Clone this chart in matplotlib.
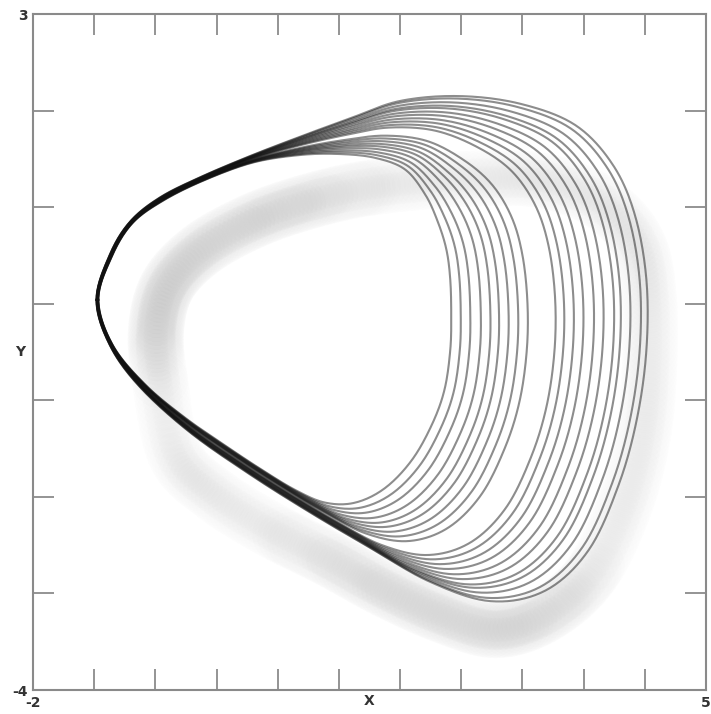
import numpy as np
import matplotlib.pyplot as plt

# outermost loop (clockwise from the left tip)
outer_x = [-1.34, -1.20, -0.99, -0.68, -0.26, 0.26, 0.78, 1.30, 1.82, 2.44,
           3.07, 3.64, 4.03, 4.26, 4.38, 4.38, 4.28, 4.09, 3.78, 3.33,
           2.76, 2.13, 1.51, 0.88, 0.26, -0.37, -0.89, -1.20]
outer_y = [0.04, 0.51, 0.85, 1.10, 1.31, 1.53, 1.73, 1.92, 2.10, 2.15,
           2.07, 1.85, 1.44, 0.92, 0.25, -0.48, -1.20, -1.88, -2.55, -2.97,
           -3.08, -2.88, -2.53, -2.16, -1.77, -1.33, -0.86, -0.43]

# innermost loop, same stations
inner_x = [-1.32, -1.18, -0.97, -0.66, -0.24, 0.28, 0.78, 1.19, 1.56, 1.87,
           2.08, 2.21, 2.30, 2.34, 2.35, 2.34, 2.28, 2.15, 1.94, 1.66,
           1.35, 1.04, 0.73, 0.38, 0.00, -0.42, -0.83, -1.17]
inner_y = [0.04, 0.49, 0.83, 1.06, 1.27, 1.46, 1.54, 1.55, 1.51, 1.39,
           1.13, 0.85, 0.56, 0.25, -0.12, -0.48, -0.89, -1.25, -1.62, -1.91,
           -2.06, -2.06, -1.93, -1.72, -1.47, -1.18, -0.84, -0.43]

# right-hand extent of every loop (x at y ~ 0)
loop_right = [2.34, 2.44, 2.54, 2.65, 2.75, 2.84, 2.94, 3.04, 3.14, 3.43,
              3.52, 3.62, 3.72, 3.83, 3.93, 4.04, 4.11, 4.21, 4.32, 4.39]

# grey cloud of the noisy trajectory: centre line and relative density
cloud_x = [-0.68, -0.72, -0.60, -0.25, 0.27, 0.80, 1.38, 2.03, 2.76, 3.38,
           3.95, 4.30, 4.41, 4.41, 4.34, 4.14, 3.80, 3.33, 2.81, 2.24,
           1.66, 1.09, 0.47, -0.11, -0.52]
cloud_y = [-0.79, -0.27, 0.19, 0.56, 0.85, 1.04, 1.18, 1.26, 1.30, 1.26,
           1.02, 0.61, 0.04, -0.69, -1.41, -2.13, -2.81, -3.22, -3.38, -3.22,
           -2.96, -2.65, -2.34, -1.98, -1.57]
cloud_dens = [0.3, 0.9, 1.0, 1.0, 0.95, 0.8, 0.55, 0.35, 0.2, 0.12,
              0.1, 0.1, 0.1, 0.1, 0.15, 0.3, 0.55, 0.75, 0.85, 0.85,
              0.8, 0.7, 0.45, 0.2, 0.15]


def closed_spline(vals, n=20):
    # periodic catmull-rom through the read stations
    p = np.column_stack(vals)
    m = len(p)
    t = np.linspace(0, 1, n, endpoint=False)[:, None]
    segs = []
    for i in range(m):
        p0, p1, p2, p3 = p[i - 1], p[i], p[(i + 1) % m], p[(i + 2) % m]
        segs.append(0.5 * (2 * p1 + (p2 - p0) * t
                           + (2 * p0 - 5 * p1 + 4 * p2 - p3) * t ** 2
                           + (3 * p1 - p0 - 3 * p2 + p3) * t ** 3))
    segs.append(segs[0][:1])
    return np.vstack(segs).T


fig = plt.figure(figsize=(7.11, 7.14), dpi=100)
ax = fig.add_axes([33 / 711, 24 / 714, 673 / 711, 676 / 714])

# cloud: soft overlapping discs along the centre line
cx, cy, cd = closed_spline([cloud_x, cloud_y, cloud_dens], 12)
cd = np.clip(cd, 0, 1)
for d in [56, 40, 24]:
    rgba = np.zeros((len(cx), 4))
    rgba[:, :3] = 0.72
    rgba[:, 3] = 0.028 * cd
    ax.scatter(cx, cy, s=(d * 0.72) ** 2, c=rgba, edgecolors='none',
               linewidths=0, zorder=1)

# the loops
ox, oy = np.array(outer_x), np.array(outer_y)
ix, iy = np.array(inner_x), np.array(inner_y)
for r in loop_right:
    f = (r - loop_right[0]) / (loop_right[-1] - loop_right[0])
    lx, ly = closed_spline([ix + f * (ox - ix), iy + f * (oy - iy)])
    ax.plot(lx, ly, color='#111111', lw=1.5, alpha=0.48, zorder=3)

ax.set_xlim(-2, 5)
ax.set_ylim(-4, 3)

ax.set_xticks([-2, 5])
ax.set_xticklabels(['-2', '5'])
ax.set_yticks([-4, 3])
ax.set_yticklabels(['-4', '3'])
ax.set_xticks(np.linspace(-2, 5, 12)[1:-1], minor=True)
ax.set_yticks(np.arange(-3, 3), minor=True)
ax.tick_params(which='major', length=0, pad=4, labelsize=10, labelcolor='#333333')
ax.tick_params(which='minor', direction='in', length=15, width=1.1,
               color='#777777', top=True, right=True)
for lab in ax.get_xticklabels() + ax.get_yticklabels():
    lab.set_fontweight('bold')

ax.set_xlabel('X', fontsize=10, fontweight='bold', color='#333333')
ax.xaxis.set_label_coords(0.5, -0.006)
ax.set_ylabel('Y', fontsize=10, fontweight='bold', color='#333333',
              rotation=0, va='center', ha='right')
ax.yaxis.set_label_coords(-0.012, 0.5)

for s in ax.spines.values():
    s.set_color('#8a8a8a')
    s.set_linewidth(1.5)

fig.savefig('out.png', dpi=100)
